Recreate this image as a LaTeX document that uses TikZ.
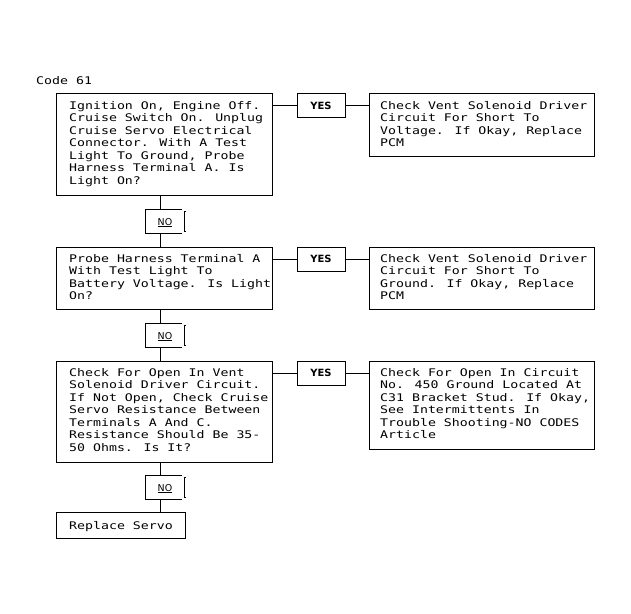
\documentclass[tikz,border=0pt]{standalone}
\usepackage{fontspec}
\newfontfamily\monofam[FakeStretch=1.258]{DejaVu Sans Mono}
\newfontfamily\labfam{DejaVu Sans}
\newcommand\bodyfont{\monofam\fontsize{10.56}{12.6}\selectfont}
\newcommand\yesfont{\labfam\bfseries\fontsize{10}{12}\selectfont}
\newcommand\nofont{\labfam\fontsize{9.5}{11}\selectfont}
\tikzset{
  frame/.style={draw, line width=1bp, inner sep=0pt, outer sep=0pt, anchor=north west},
  leftbox/.style={frame, minimum width=216bp},
  rightbox/.style={frame, minimum width=225bp},
  yesbox/.style={frame, minimum width=48bp, minimum height=24bp},
  noslot/.style={inner sep=0pt, outer sep=0pt, anchor=north west, minimum width=40bp, minimum height=24bp},
  body/.style={anchor=north west, inner sep=0pt, align=left, font=\bodyfont},
  yestext/.style={inner sep=0pt, font=\yesfont},
  notext/.style={inner sep=0pt, anchor=base, font=\nofont},
  link/.style={line width=1bp},
}
\newcommand\nobracket[1]{%
  \draw[link] ([xshift=-3bp]#1.north east) -- (#1.north west) -- (#1.south west) -- ([xshift=-3bp]#1.south east);
  \draw[link] ([shift={(1bp,-2bp)}]#1.north east) -- ([shift={(-1bp,-2bp)}]#1.north east) -- ([shift={(-1bp,2bp)}]#1.south east) -- ([shift={(1bp,2bp)}]#1.south east);
}
\begin{document}
\begin{tikzpicture}[x=1bp, y=-1bp]
\useasboundingbox[fill=white] (0,0) rectangle (631,614);
\coordinate (trunk) at (160,0);

\node[anchor=base west, inner sep=0pt, font=\bodyfont] (code) at (36,85) {Code 61};

% row 1
\node[leftbox, minimum height=101bp] (b1) at (56,94) {};
\node[body] (t1) at (69,101) {Ignition On, Engine Off.\\Cruise Switch On. Unplug\\Cruise Servo Electrical\\Connector. With A Test\\Light To Ground, Probe\\Harness Terminal A. Is\\Light On?};
\node[yesbox] (y1) at (297,94) {};
\node[yestext] (yt1) at (y1.center) {YES};
\node[rightbox, minimum height=62bp] (r1) at (369,94) {};
\node[body] (rt1) at (380,101) {Check Vent Solenoid Driver\\Circuit For Short To\\Voltage. If Okay, Replace\\PCM};

\node[noslot] (n1) at (145,209) {};
\node[notext] (nt1) at (165,225) {\underline{NO}};

% row 2
\node[leftbox, minimum height=62bp] (b2) at (56,247) {};
\node[body] (t2) at (69,254) {Probe Harness Terminal A\\With Test Light To\\Battery Voltage. Is Light\\On?};
\node[yesbox] (y2) at (297,247) {};
\node[yestext] (yt2) at (y2.center) {YES};
\node[rightbox, minimum height=62bp] (r2) at (369,247) {};
\node[body] (rt2) at (380,254) {Check Vent Solenoid Driver\\Circuit For Short To\\Ground. If Okay, Replace\\PCM};

\node[noslot] (n2) at (145,323) {};
\node[notext] (nt2) at (165,339) {\underline{NO}};

% row 3
\node[leftbox, minimum height=101bp] (b3) at (56,361) {};
\node[body] (t3) at (69,368) {Check For Open In Vent\\Solenoid Driver Circuit.\\If Not Open, Check Cruise\\Servo Resistance Between\\Terminals A And C.\\Resistance Should Be 35-\\50 Ohms. Is It?};
\node[yesbox] (y3) at (297,361) {};
\node[yestext] (yt3) at (y3.center) {YES};
\node[rightbox, minimum height=88bp] (r3) at (369,361) {};
\node[body] (rt3) at (380,368) {Check For Open In Circuit\\No. 450 Ground Located At\\C31 Bracket Stud. If Okay,\\See Intermittents In\\Trouble Shooting-NO CODES\\Article};

\node[noslot] (n3) at (145,475) {};
\node[notext] (nt3) at (165,491) {\underline{NO}};

% final
\node[frame, minimum width=129bp, minimum height=26bp] (b4) at (56,512) {};
\node[anchor=base west, inner sep=0pt, font=\bodyfont] (t4) at (69,529) {Replace Servo};

% NO brackets
\nobracket{n1}
\nobracket{n2}
\nobracket{n3}

% vertical connectors
\draw[link] (b1.south -| trunk) -- (n1.north -| trunk);
\draw[link] (n1.south -| trunk) -- (b2.north -| trunk);
\draw[link] (b2.south -| trunk) -- (n2.north -| trunk);
\draw[link] (n2.south -| trunk) -- (b3.north -| trunk);
\draw[link] (b3.south -| trunk) -- (n3.north -| trunk);
\draw[link] (n3.south -| trunk) -- (b4.north -| trunk);

% YES connectors
\draw[link] (y1.west -| b1.east) -- (y1.west);
\draw[link] (y1.east) -- (y1.east -| r1.west);
\draw[link] (y2.west -| b2.east) -- (y2.west);
\draw[link] (y2.east) -- (y2.east -| r2.west);
\draw[link] (y3.west -| b3.east) -- (y3.west);
\draw[link] (y3.east) -- (y3.east -| r3.west);
\end{tikzpicture}
\end{document}
